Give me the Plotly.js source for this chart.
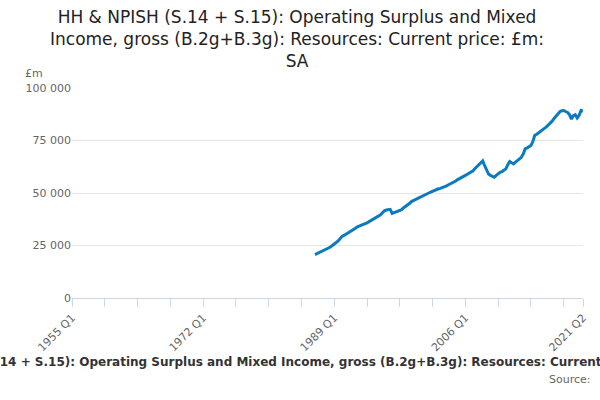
<!DOCTYPE html>
<html>
<head>
<meta charset="utf-8">
<script src="https://cdn.plot.ly/plotly-3.0.1.min.js"></script>
<style>html,body{margin:0;padding:0;background:#fff}#chart{width:600px;height:400px}</style>
</head>
<body>
<div id="chart"></div>
<script>
// 1986 Q3 .. 2021 Q2, £m, SA
const firstYear = 1986, firstQuarter = 3
const values = [
  20700, 21100, 21500, 21900, 22400, 22800, 23300, 23800,
  24300, 24900, 25600, 26400, 27200, 28300, 29300, 29800,
  30300, 30800, 31300, 31900, 32500, 33200, 33900, 34200,
  34600, 35000, 35400, 35800, 36300, 36800, 37400, 38000,
  38400, 38700, 39600, 40600, 41500, 41900, 42000, 42200,
  40300, 40600, 40900, 41200, 41600, 42100, 43000, 43600,
  44300, 45000, 45900, 46400, 46900, 47300, 47800, 48300,
  48800, 49200, 49600, 50000, 50400, 50900, 51400, 51700,
  52000, 52200, 52500, 52900, 53300, 53800, 54200, 54600,
  55000, 55700, 56400, 57000, 57500, 57900, 58400, 58900,
  59400, 59800, 60600, 61700, 62600, 63500, 64200, 65300,
  63000, 60500, 59000, 58400, 57800, 57500, 58400, 59300,
  59800, 60200, 60800, 61500, 63500, 65000, 64400, 63900,
  64700, 65400, 66100, 67000, 68500, 71000, 71500, 72000,
  72600, 74500, 77500, 78000, 78800, 79500, 80000, 80800,
  81500, 82300, 83300, 84200, 85500, 86700, 87800, 88700,
  89200, 89300, 88800, 88400, 87300, 85200, 86800, 87300,
  85700, 87000, 89300, 89000
]
const majorTicks = ["1955 Q1", "1972 Q1", "1989 Q1", "2006 Q1", "2021 Q2"]
const yTicks = [0, 25000, 50000, 75000, 100000]
const yTickText = ["0", "25 000", "50 000", "75 000", "100 000"]
const fullTitle = "HH &amp; NPISH (S.14 + S.15): Operating Surplus and Mixed Income, gross (B.2g+B.3g): Resources: Current price: £m: SA"

// all quarters on the axis, 1955 Q1 .. 2021 Q2
const allQuarters = []
for (let y = 1955; y <= 2021; y++) for (let q = 1; q <= 4; q++) {
  if (y === 2021 && q > 2) break
  allQuarters.push(`${y} Q${q}`)
}
const start = allQuarters.indexOf(`${firstYear} Q${firstQuarter}`)
const xs = values.map((_, i) => allQuarters[start + i])

// small ticks every 17 quarters, labels only on the major ones
const tickvals = [], ticktext = []
for (let i = 0; i < allQuarters.length; i += 17) tickvals.push(allQuarters[i])
tickvals.push(allQuarters[allQuarters.length - 1])
tickvals.forEach((v) => ticktext.push(majorTicks.includes(v) ? v : ""))

const font = "DejaVu Sans, sans-serif"

Plotly.newPlot("chart", [{
  x: xs, y: values, type: "scatter", mode: "lines",
  line: { color: "#0b7bc1", width: 3 },
  hoverinfo: "x+y"
}], {
  width: 600, height: 400,
  paper_bgcolor: "#fff", plot_bgcolor: "#fff",
  font: { family: font, color: "#555" },
  showlegend: false,
  margin: { l: 72, r: 17, t: 88, b: 102 },
  xaxis: {
    type: "category", categoryorder: "array", categoryarray: allQuarters,
    range: [0, allQuarters.length - 1],
    tickmode: "array", tickvals: tickvals, ticktext: ticktext, tickangle: -45,
    ticks: "outside", ticklen: 8, tickcolor: "#ccd6eb",
    showline: true, linecolor: "#ccd6eb", showgrid: false, zeroline: false,
    tickfont: { size: 11, color: "#666" }
  },
  yaxis: {
    range: [0, 100000], tickvals: yTicks, ticktext: yTickText,
    showgrid: true, gridcolor: "#e6e6e6", zeroline: false, showline: false,
    ticks: "", tickfont: { size: 11, color: "#666" }
  },
  annotations: [
    { text: "HH &amp; NPISH (S.14 + S.15): Operating Surplus and Mixed<br>Income, gross (B.2g+B.3g): Resources: Current price: £m:<br>SA",
      xref: "paper", yref: "paper", x: 0.44, y: 1.395, xanchor: "center", yanchor: "top",
      showarrow: false, font: { family: font, size: 17, color: "#222" } },
    { text: "£m", xref: "paper", yref: "paper", x: -0.095, y: 1.067, xanchor: "left", yanchor: "middle",
      showarrow: false, font: { family: font, size: 11, color: "#666" } },
    { text: "<b>" + fullTitle + "</b>", xref: "paper", yref: "paper", x: 0.44, y: -0.305,
      xanchor: "center", yanchor: "middle", showarrow: false,
      font: { family: font, size: 12, color: "#333" } },
    { text: "Source:", xref: "paper", yref: "paper", x: 1.02, y: -0.39,
      xanchor: "right", yanchor: "middle", showarrow: false,
      font: { family: font, size: 11, color: "#666" } }
  ]
}, { displayModeBar: false, staticPlot: true })
</script>
</body>
</html>
